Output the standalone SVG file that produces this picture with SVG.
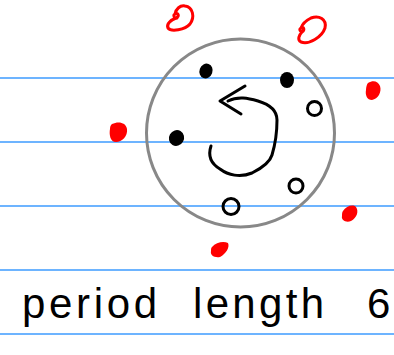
<svg xmlns="http://www.w3.org/2000/svg" width="394" height="355" viewBox="0 0 394 355">
<style>
.rule{stroke:#3d9bff;stroke-width:1.5}
.ink{fill:none;stroke:#000;stroke-width:3;stroke-linecap:round;stroke-linejoin:round}
.red{fill:none;stroke:#f00;stroke-width:3;stroke-linecap:round;stroke-linejoin:round}
.blob{fill:#f00}
.dot{fill:#000}
.hand{font-family:"Liberation Sans",Arial,sans-serif;font-size:42px;fill:#000}
</style>
<rect width="394" height="355" fill="#fff"/>
<g id="rules">
<line class="rule" x1="0" y1="78" x2="394" y2="78"/>
<line class="rule" x1="0" y1="142" x2="394" y2="142"/>
<line class="rule" x1="0" y1="206" x2="394" y2="206"/>
<line class="rule" x1="0" y1="270" x2="394" y2="270"/>
<line class="rule" x1="0" y1="334" x2="394" y2="334"/>
</g>
<g id="cycle">
<circle cx="240.5" cy="133" r="94" fill="none" stroke="#888" stroke-width="3"/>
</g>
<g id="dots-filled">
<ellipse class="dot" cx="206" cy="71" rx="6.5" ry="7.5" transform="rotate(20 206 71)"/>
<ellipse class="dot" cx="287" cy="80" rx="7" ry="8"/>
<ellipse class="dot" cx="176.5" cy="138" rx="7.5" ry="8" transform="rotate(30 176.5 138)"/>
</g>
<g id="dots-open">
<circle class="ink" cx="314.5" cy="108.5" r="7"/>
<circle class="ink" cx="296" cy="186" r="7"/>
<circle class="ink" cx="231" cy="206.5" r="8"/>
</g>
<g id="connectors">
<path class="ink" d="M211,146 C208,155 210,163 220,169 C228,175 240,178 252,173 C262,168 270,162 272,155 C275,145 277,130 277,120 C277,110 268,104 258,101 C248,98 238,96 228,101"/>
<path class="ink" d="M245,86 L220,101 L241,114"/>
</g>
<g id="red-outside">
<path class="red" d="M177,18 C174,19 173,15 175,14 C178,12 180,16 176,18 C171,20 166,24 168,28 C171,32 185,30 190,24 C195,17 193,7 185,6 C180,5 176,9 175,14"/>
<path class="red" d="M302,31 C300,32 299,29 301,28 C304,26 305,30 302,32 C299,35 297,40 301,42 C309,45 322,37 325,28 C327,19 319,15 311,18 C305,21 302,25 301,28"/>
<path class="blob" d="M112,124 C118,121 126,122 127,129 C128,136 122,142 116,142 C110,142 109,134 110,129 C110,126 111,125 112,124 Z"/>
<path class="blob" d="M368,83 C373,80 378,81 380,86 C382,92 378,99 372,100 C367,100 365,95 366,90 C366,87 367,84 368,83 Z"/>
<path class="blob" d="M343,211 C346,206 353,204 356,207 C359,211 357,218 351,221 C346,223 341,220 342,216 C342,214 342,212 343,211 Z"/>
<path class="blob" d="M212,247 C216,242 224,241 228,243 C230,247 226,254 220,257 C214,258 210,255 211,251 C211,249 211,248 212,247 Z"/>
</g>
<g id="label">
<text class="hand" x="22" y="318" textLength="135" lengthAdjust="spacing">period</text>
<text class="hand" x="193" y="318" textLength="131" lengthAdjust="spacing">length</text>
<text class="hand" x="367" y="318">6</text>
</g>
</svg>
